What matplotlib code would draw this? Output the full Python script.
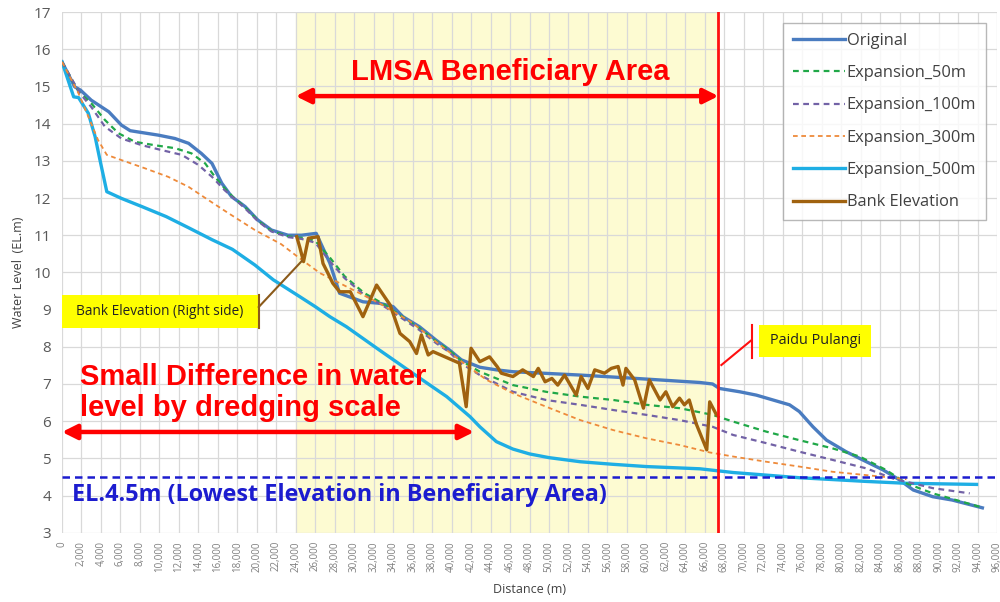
import matplotlib

matplotlib.use("Agg")
import matplotlib.pyplot as plt
from matplotlib.patches import Rectangle
from matplotlib.ticker import FuncFormatter, MultipleLocator

plt.rcParams["font.family"] = ["Open Sans", "DejaVu Sans"]

# water level profiles along the river (distance in m, elevation in EL.m)
orig_x = [0, 1300, 1900, 3000, 4800, 6100, 7000, 8200, 9900, 11600, 13000, 14300,
          15400, 16400, 17400, 18800, 20100, 21500, 23200, 24600, 26100, 27500,
          28500, 30900, 32600, 34000, 35000, 36700, 38400, 39800, 41000, 42900,
          44600, 46300, 53200, 58300, 65500, 66800, 67500, 69600, 71300, 73000,
          74700, 75700, 77100, 78500, 80500, 82200, 84300, 86000, 87400, 89400,
          91400, 94500]
orig_y = [15.66, 14.99, 14.9, 14.63, 14.32, 13.96, 13.81, 13.76, 13.69, 13.6, 13.47,
          13.2, 12.93, 12.4, 12.04, 11.77, 11.41, 11.14, 11.0, 11.0, 11.05, 10.25,
          9.44, 9.21, 9.17, 9.08, 8.81, 8.54, 8.18, 7.91, 7.65, 7.45, 7.38, 7.33,
          7.24, 7.16, 7.04, 7.0, 6.88, 6.79, 6.7, 6.57, 6.44, 6.26, 5.85, 5.49,
          5.18, 4.96, 4.69, 4.42, 4.15, 3.97, 3.88, 3.67]

exp50_x = [0, 1700, 3000, 4400, 5800, 7500, 9500, 11600, 13300, 14700, 15700, 16700,
           17600, 18800, 20100, 21500, 23200, 24600, 26000, 27500, 29000, 31000,
           33000, 35000, 36700, 38400, 39800, 41000, 42900, 46300, 49700, 53200,
           56600, 60000, 63400, 66800, 68900, 72300, 75700, 79100, 81900, 84600,
           86700, 89400, 94200]
exp50_y = [15.66, 14.86, 14.55, 14.1, 13.74, 13.51, 13.42, 13.34, 13.2, 12.93, 12.57,
           12.26, 12.02, 11.75, 11.4, 11.12, 10.97, 10.93, 10.85, 10.4, 9.9, 9.45,
           9.15, 8.8, 8.5, 8.15, 7.9, 7.62, 7.33, 6.97, 6.79, 6.66, 6.57, 6.44, 6.35,
           6.17, 5.99, 5.72, 5.49, 5.27, 5.05, 4.69, 4.33, 4.06, 3.7]

exp100_x = [0, 1850, 3000, 4400, 6100, 8200, 10200, 12300, 14000, 15400, 16700,
            17600, 18800, 20100, 21500, 23200, 24600, 26000, 27500, 29000, 31000,
            33000, 35000, 36700, 38400, 39800, 41000, 42900, 46300, 49700, 53200,
            56600, 60000, 63400, 66800, 68900, 72300, 75700, 79100, 82600, 85300,
            89400, 93200]
exp100_y = [15.66, 14.81, 14.45, 13.92, 13.6, 13.42, 13.29, 13.16, 12.89, 12.57,
            12.21, 12.0, 11.72, 11.38, 11.1, 10.95, 10.9, 10.8, 10.3, 9.85, 9.4, 9.1,
            8.75, 8.45, 8.1, 7.85, 7.55, 7.24, 6.79, 6.57, 6.44, 6.3, 6.17, 6.03,
            5.85, 5.63, 5.41, 5.18, 4.96, 4.73, 4.46, 4.2, 4.06]

exp300_x = [0, 1700, 2700, 3700, 4600, 6100, 8500, 10900, 13000, 15000, 17100,
            19800, 22500, 24400, 26500, 29200, 32600, 36000, 39500, 41500, 43600,
            46300, 49700, 53200, 56600, 60000, 63400, 66500, 68900, 72300, 75700,
            79100, 82600, 86700]
exp300_y = [15.66, 14.81, 14.19, 13.56, 13.16, 13.02, 12.8, 12.57, 12.3, 11.95, 11.59,
            11.14, 10.76, 10.38, 9.98, 9.62, 9.17, 8.64, 7.91, 7.51, 7.11, 6.75, 6.39,
            6.03, 5.76, 5.54, 5.36, 5.16, 5.05, 4.91, 4.78, 4.64, 4.55, 4.44]

exp500_x = [0, 1200, 1700, 2700, 3400, 3900, 4600, 6100, 8200, 10700, 13000, 15400,
            17500, 19800, 21700, 24400, 26000, 27500, 29200, 32600, 36000, 39500,
            41900, 42900, 44600, 46300, 48000, 50000, 53200, 56600, 60000, 65500,
            68900, 75700, 82600, 86700, 93900]
exp500_y = [15.66, 14.72, 14.7, 14.28, 13.65, 13.02, 12.17, 11.99, 11.77, 11.5, 11.2,
            10.88, 10.62, 10.2, 9.8, 9.35, 9.08, 8.81, 8.54, 7.91, 7.29, 6.66, 6.12,
            5.85, 5.45, 5.25, 5.12, 5.02, 4.91, 4.84, 4.78, 4.72, 4.62, 4.48, 4.38,
            4.33, 4.3]

bank_x = [24100, 24400, 24800, 25300, 26300, 26800, 27300, 27800, 28500, 29600,
          30900, 32300, 33700, 34700, 35700, 36400, 36900, 37600, 38100, 40800,
          41500, 42000, 42900, 43900, 44700, 45100, 46300, 47300, 48400, 48900,
          49600, 50300, 50900, 51600, 52800, 53300, 54000, 54700, 55700, 56400,
          57100, 57600, 57900, 58800, 59700, 60300, 61400, 62000, 62700, 63400,
          63900, 64400, 65100, 66200, 66500, 67200]
bank_y = [10.96, 10.69, 10.29, 10.92, 10.96, 10.24, 9.98, 9.71, 9.48, 9.48, 8.81,
          9.66, 9.12, 8.36, 8.14, 7.82, 8.32, 7.78, 7.87, 7.56, 6.39, 7.96, 7.6,
          7.73, 7.46, 7.29, 7.2, 7.38, 7.2, 7.42, 7.06, 7.15, 6.97, 7.24, 6.7, 7.2,
          6.88, 7.38, 7.29, 7.42, 7.47, 6.97, 7.42, 7.11, 6.35, 7.11, 6.57, 6.79,
          6.39, 6.62, 6.44, 6.57, 5.94, 5.23, 6.52, 6.17]

area_start = 24000
paidu_pulangi = 67400
lowest_el = 4.5

fig = plt.figure(figsize=(10, 6.02), dpi=100)
ax = fig.add_axes([0.062, 0.115, 0.935, 0.865])
ax.set_xlim(0, 96000)
ax.set_ylim(3, 17)

ax.axvspan(area_start, paidu_pulangi, color="#fdfbd2", zorder=0)
ax.xaxis.set_major_locator(MultipleLocator(2000))
ax.yaxis.set_major_locator(MultipleLocator(1))
ax.grid(True, color="#d9d9d9", linewidth=0.9, zorder=1)
ax.set_axisbelow(True)
for s in ax.spines.values():
    s.set_visible(False)
ax.tick_params(length=0)
ax.tick_params(axis="x", labelrotation=90, labelsize=7, labelcolor="#7f7f7f", pad=6)
ax.tick_params(axis="y", labelsize=11, labelcolor="#595959", pad=8)
ax.xaxis.set_major_formatter(FuncFormatter(lambda v, p: f"{int(v):,}"))
ax.set_xlabel("Distance (m)", fontsize=9, color="#404040", labelpad=8)
ax.set_ylabel("Water Level  (EL.m)", fontsize=9, color="#404040", labelpad=6)

dash = (0, (2.6, 2.0))
ax.plot(orig_x, orig_y, color="#4a7cc0", lw=2.4, label="Original", zorder=5)
ax.plot(exp50_x, exp50_y, color="#20a848", lw=1.6, ls=dash, label="Expansion_50m", zorder=6)
ax.plot(exp100_x, exp100_y, color="#7262a6", lw=1.6, ls=dash, label="Expansion_100m", zorder=6)
ax.plot(exp300_x, exp300_y, color="#ee8a3a", lw=1.3, ls=dash, label="Expansion_300m", zorder=6)
ax.plot(exp500_x, exp500_y, color="#1eaee4", lw=2.4, label="Expansion_500m", zorder=5)
ax.plot(bank_x, bank_y, color="#a0620f", lw=2.4, label="Bank Elevation", zorder=7)

ax.axhline(lowest_el, color="#1c1ccf", lw=1.8, ls=(0, (3, 2)), zorder=8)
ax.axvline(paidu_pulangi, color="#ff1010", lw=2.0, zorder=8)

leg = ax.legend(loc="upper right", bbox_to_anchor=(0.9935, 0.989), fontsize=11.8,
                frameon=True, fancybox=False, handlelength=3.2, handletextpad=0.1,
                labelspacing=1.0, borderpad=0.6, borderaxespad=0.3)
leg.get_frame().set_edgecolor("#a6a6a6")
leg.get_frame().set_linewidth(1.0)
for t in leg.get_texts():
    t.set_color("#404040")

red = "#ff0000"
arrow = dict(arrowstyle="<|-|>", color=red, lw=3.2, mutation_scale=22, shrinkA=0, shrinkB=0)
ax.annotate("", xy=(area_start, 14.74), xytext=(paidu_pulangi, 14.74), arrowprops=arrow, zorder=9)
ax.text(46000, 15.4, "LMSA Beneficiary Area", color=red, fontsize=21, fontweight="bold",
        family="Liberation Sans", ha="center", va="center", zorder=9)
ax.annotate("", xy=(0, 5.71), xytext=(42300, 5.71), arrowprops=arrow, zorder=9)
ax.text(1800, 6.76, "Small Difference in water\nlevel by dredging scale", color=red,
        fontsize=21, fontweight="bold", family="Liberation Sans", ha="left", va="center",
        linespacing=1.13, zorder=9)
ax.text(1000, 4.02, "EL.4.5m (Lowest Elevation in Beneficiary Area)", color="#1c1ccf",
        fontsize=16.8, fontweight="bold", ha="left", va="center", zorder=9)

# callout labels with leader lines
ax.add_patch(Rectangle((0, 8.5), 20100, 0.89, fc="#ffff00", ec="none", zorder=9))
ax.text(10000, 8.95, "Bank Elevation (Right side)", fontsize=9.8, color="#222222",
        ha="center", va="center", zorder=10)
ax.plot([20200, 20200], [8.5, 9.4], color="#8b5a1a", lw=1.5, zorder=9)
ax.plot([20200, 24600], [9.07, 10.3], color="#8b5a1a", lw=1.5, zorder=9)
ax.add_patch(Rectangle((71600, 7.73), 11500, 0.86, fc="#ffff00", ec="none", zorder=9))
ax.text(77350, 8.16, "Paidu Pulangi", fontsize=10.4, color="#222222",
        ha="center", va="center", zorder=10)
ax.plot([70800, 70800], [7.7, 8.59], color="#ff1010", lw=1.5, zorder=9)
ax.plot([70800, 67700], [8.18, 7.51], color="#ff1010", lw=1.5, zorder=9)

fig.savefig("out.png", dpi=100)
